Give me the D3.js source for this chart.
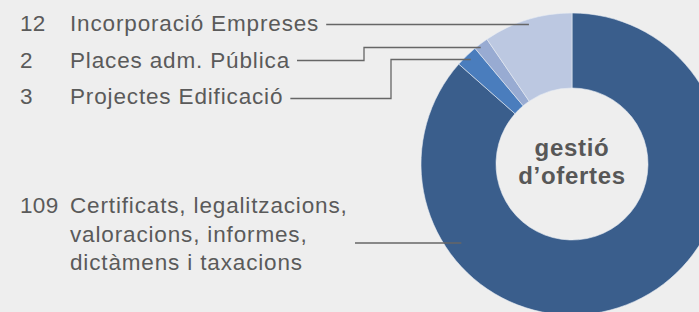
<!DOCTYPE html>
<html>
<head>
<meta charset="utf-8">
<script src="https://cdn.jsdelivr.net/npm/d3@7"></script>
<style>
  html, body { margin: 0; padding: 0; background: #eeeeee; }
  svg { display: block; }
</style>
</head>
<body>
<script>
var svgWidth = 699;
var svgHeight = 312;

// data, in the order the slices go clockwise from 12 o'clock
var values = [109, 3, 2, 12];
var names = [
    ["Certificats, legalitzacions,", "valoracions, informes,", "dictàmens i taxacions"],
    ["Projectes Edificació"],
    ["Places adm. Pública"],
    ["Incorporació Empreses"]
];
var colors = ["#3a5e8c", "#4a7dbd", "#98abd2", "#bcc8e1"];
var centerLabel = ["gestió", "d’ofertes"];

// label layout (index matches values)
var labelBaseline = [213, 104, 68, 31];
var lineY = [243, 98.5, 60.5, 24.5];
var elbowY = [null, 59.5, 47.5, null];
var elbowX = [null, 391, 364, null];
var endRadius = [136, 145.5, 148, 146];

var cx = 572, cy = 164;
var outerR = 151, innerR = 76;
var font = "Liberation Sans, Arial, sans-serif";

var svg = d3.select("body")
    .append("svg")
    .attr("width", svgWidth)
    .attr("height", svgHeight);

var pie = d3.pie().sort(null).value(function (d) { return d; });
var arc = d3.arc().innerRadius(innerR).outerRadius(outerR);

var g = svg.append("g").attr("transform", "translate(" + cx + "," + cy + ")");
g.selectAll("path")
    .data(pie(values))
    .enter()
    .append("path")
    .attr("d", arc)
    .attr("fill", function (d, i) { return colors[i]; })
    .attr("stroke", "#e8ecf4")
    .attr("stroke-width", 0.6);

g.selectAll("text.center")
    .data(centerLabel)
    .enter()
    .append("text")
    .attr("class", "center")
    .attr("x", 0)
    .attr("y", function (d, i) { return -8 + i * 28; })
    .attr("text-anchor", "middle")
    .attr("font-family", font)
    .attr("font-weight", "bold")
    .attr("font-size", "24px")
    .attr("letter-spacing", "0.7px")
    .attr("fill", "#575757")
    .text(function (d) { return d; });

// labels and leader lines
values.forEach(function (v, i) {
    var grp = svg.append("g");
    grp.append("text")
        .attr("x", 20)
        .attr("y", labelBaseline[i])
        .attr("font-family", font)
        .attr("font-size", "22.5px")
        .attr("letter-spacing", "0.3px")
        .attr("fill", "#5a5a5a")
        .text(v);
    var txt = grp.append("text")
        .attr("x", 70)
        .attr("y", labelBaseline[i])
        .attr("font-family", font)
        .attr("font-size", "22.5px")
        .attr("letter-spacing", "0.85px")
        .attr("fill", "#5a5a5a");
    txt.selectAll("tspan")
        .data(names[i])
        .enter()
        .append("tspan")
        .attr("x", 70)
        .attr("dy", function (d, j) { return j === 0 ? 0 : 28.5; })
        .text(function (d) { return d; });

    var textEnd = 70 + d3.max(txt.selectAll("tspan").nodes(), function (n) {
        return n.getComputedTextLength();
    });
    var startX = i === 0 ? 355 : textEnd + 7;
    var endY = elbowY[i] !== null ? elbowY[i] : lineY[i];
    var dy = endY - cy;
    var endX = cx - Math.sqrt(endRadius[i] * endRadius[i] - dy * dy);

    var pts = [[startX, lineY[i]]];
    if (elbowX[i] !== null) {
        pts.push([elbowX[i], lineY[i]]);
        pts.push([elbowX[i], elbowY[i]]);
    }
    pts.push([endX, endY]);

    svg.append("path")
        .attr("d", d3.line()(pts))
        .attr("fill", "none")
        .attr("stroke", "#666666")
        .attr("stroke-width", 1.3);
});
</script>
</body>
</html>
